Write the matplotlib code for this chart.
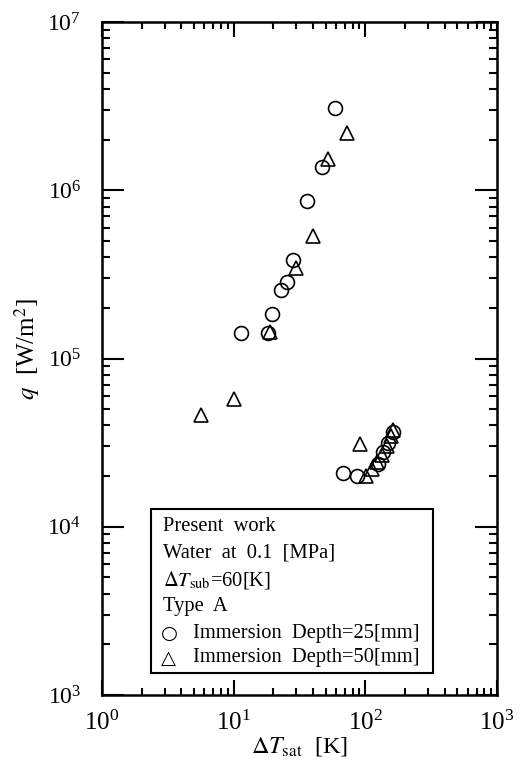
import matplotlib
matplotlib.use('Agg')
import matplotlib.pyplot as plt
from matplotlib.patches import Rectangle

plt.rcParams['font.family'] = ['Liberation Serif', 'DejaVu Sans']
plt.rcParams['mathtext.fontset'] = 'stix'

# Immersion depth = 25 mm (circles)
dT_25 = [58.8, 46.8, 36.1, 28.2, 25.4, 22.9, 19.5, 11.4, 18.2,
         67.6, 86.3, 124.6, 136.0, 148.5, 162.0]
q_25 = [3.08e6, 1.37e6, 8.6e5, 3.85e5, 2.85e5, 2.55e5, 1.84e5, 1.42e5, 1.42e5,
        2.08e4, 2.0e4, 2.36e4, 2.78e4, 3.15e4, 3.66e4]

# Immersion depth = 50 mm (triangles)
dT_50 = [72.9, 52.0, 40.0, 29.9, 19.0, 10.1, 5.6, 91.0,
         101.0, 112.0, 122.0, 134.0, 146.0, 156.0, 162.0]
q_50 = [2.18e6, 1.53e6, 5.37e5, 3.44e5, 1.43e5, 5.74e4, 4.6e4, 3.1e4,
        2.0e4, 2.2e4, 2.43e4, 2.67e4, 3.0e4, 3.46e4, 3.76e4]

legend_lines = ['Present  work',
                'Water  at  0.1  [MPa]',
                r'$\Delta T_{\mathrm{sub}}$=60[K]',
                'Type  A']
legend_series = ['Immersion  Depth=25[mm]', 'Immersion  Depth=50[mm]']

fig = plt.figure(figsize=(5.26, 7.69), dpi=100)
ax = fig.add_axes([102/526, 74/769, 395/526, 673/769])

ax.plot(dT_25, q_25, 'o', mfc='none', mec='black', ms=10, mew=1.2)
ax.plot(dT_50, q_50, '^', mfc='none', mec='black', ms=10, mew=1.2)

ax.set_xscale('log')
ax.set_yscale('log')
ax.set_xlim(1, 1000)
ax.set_ylim(1e3, 1e7)

for s in ax.spines.values():
    s.set_linewidth(1.8)

ax.tick_params(axis='both', which='both', direction='in', top=True, right=True,
               width=1.5)
ax.tick_params(axis='x', which='major', length=11, pad=11, labelsize=18)
ax.tick_params(axis='x', which='minor', length=5)
ax.tick_params(axis='y', which='major', length=16, pad=15, labelsize=17)
ax.tick_params(axis='y', which='minor', length=6)

ax.set_xlabel(r'$\Delta T_{\mathrm{sat}}$  [K]', fontsize=17.5, labelpad=0)
ax.set_ylabel(r'$q$  [W/m$^{2}$]', fontsize=18)
ax.yaxis.set_label_coords(-0.152, 0.514)

# legend box
ax.add_patch(Rectangle((0.124, 0.033), 0.714, 0.243, transform=ax.transAxes,
                       facecolor='white', edgecolor='black', lw=1.5, zorder=3))
ys = [0.251, 0.211, 0.171, 0.131]
for t, y in zip(legend_lines, ys):
    ax.text(0.154, y, t, transform=ax.transAxes, fontsize=14.8, va='center', zorder=4)
for sym, t, y in zip(['○', '△'], legend_series, [0.092, 0.055]):
    ax.text(0.150, y, sym, transform=ax.transAxes, fontsize=14, va='center',
            family='DejaVu Sans', zorder=4)
    ax.text(0.230, y, t, transform=ax.transAxes, fontsize=14.8, va='center', zorder=4)

fig.savefig('out.png', dpi=100)
